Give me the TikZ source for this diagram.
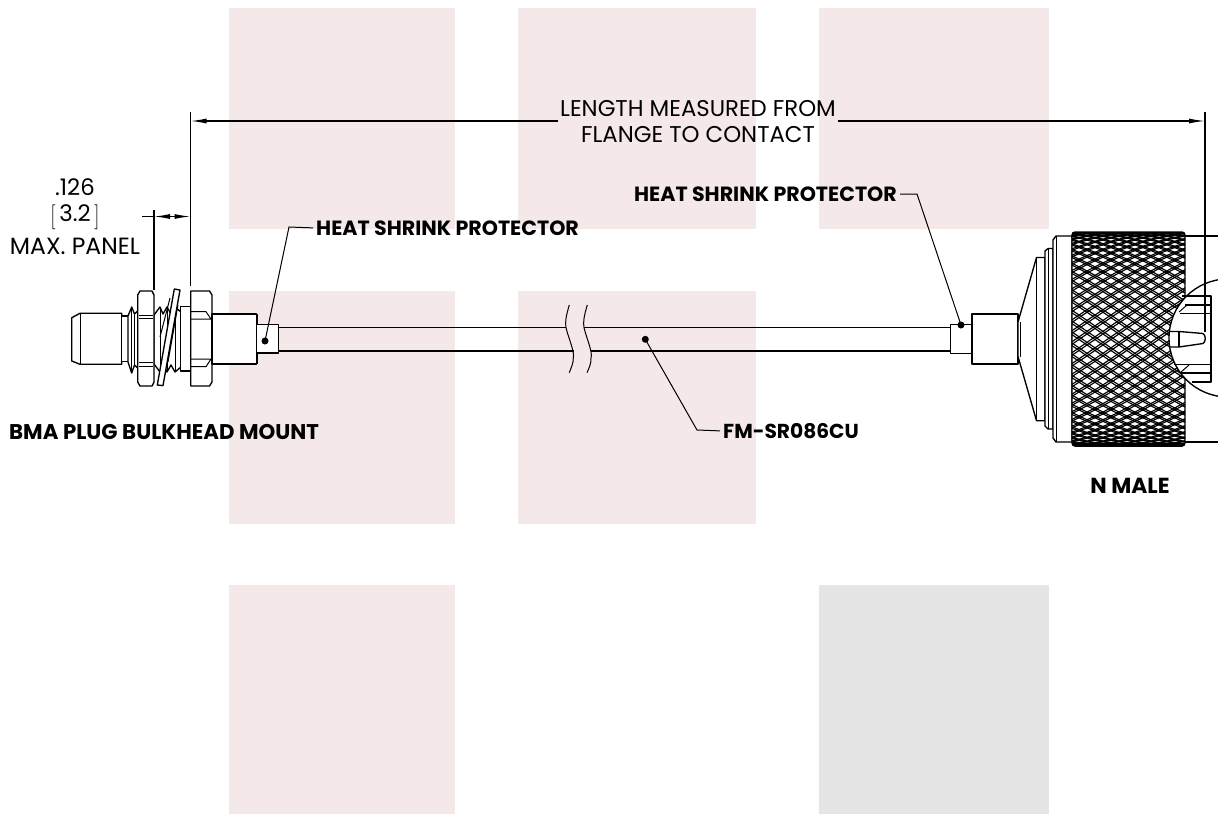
\documentclass[tikz,border=0pt]{standalone}
\usepackage{fontspec}
\setmainfont{Poppins}
\usepackage{tikz}
\usetikzlibrary{arrows.meta}
\tikzset{
    pinkbox/.style={fill=pinkshade, draw=none},
    part/.style={draw=black, line width=1.35pt, fill=white, line join=round},
    thin part/.style={draw=black, line width=1pt},
    leader/.style={draw=black, line width=1pt, shorten >=3pt},
    leaderdot/.style={circle, fill=black, inner sep=0pt, minimum size=7pt},
    dimline/.style={draw=black, line width=1.2pt},
    dimarrow/.style={dimline, -{Latex[length=16pt,width=5pt]}},
    knurl/.style={line width=1.15pt},
    boldlabel/.style={inner sep=0pt, font=\fontsize{#1}{24}\selectfont\bfseries},
    boldlabel/.default=20.6,
    lightlabel/.style={inner sep=0pt, font=\fontsize{22.8}{26}\selectfont, align=center}
}
\definecolor{pinkshade}{HTML}{F4E8E8}
\definecolor{greyshade}{HTML}{E5E5E5}

\begin{document}
\begin{tikzpicture}[x=1pt, y=-1pt]
    \useasboundingbox (0,0) rectangle (1218,814);

    % Fondo
    \fill[pinkbox] (229,8) rectangle (455,229);
    \fill[pinkbox] (229,291) rectangle (455,524);
    \fill[pinkbox] (229,585) rectangle (455,814);
    \fill[pinkbox] (518,8) rectangle (756,229);
    \fill[pinkbox] (518,291) rectangle (756,524);
    \fill[pinkbox] (819,8) rectangle (1049,229);
    \fill[greyshade] (819,585) rectangle (1049,814);

    % Conector BMA: ponta
    \draw[part] (71.7,317.7) -- (80,313.3) -- (121.7,313.3) -- (121.7,364.3) -- (80,364.3) -- (71.7,361) -- cycle;
    \draw[thin part] (80,313.3) -- (80,364.3);
    \draw[part] (121.7,316) rectangle (130,361.5);

    % Conector BMA: roscas
    \draw[part] (128,316) -- (131.7,307) -- (134.5,314) -- (137.7,311) -- (137.7,368) -- (134.5,365) -- (131.7,373) -- (128,362) -- cycle;
    \draw[thin part] (131.7,307) -- (131.7,373);
    \draw[thin part] (134.5,314) -- (134.5,365);
    \draw[part] (154,315) -- (160,307) -- (163,314) -- (167,307) -- (171,314) -- (175,307) -- (181,312) -- (181,367) -- (175,372) -- (171,365) -- (167,372) -- (163,365) -- (160,372) -- (154,364) -- cycle;
    \draw[thin part] (160,307) -- (160,372);
    \draw[thin part] (167,307) -- (167,372);
    \draw[thin part] (175,307) -- (175,372);

    % Conector BMA: porcas
    \draw[part] (137.7,295) -- (140,291) -- (152,291) -- (154,295) -- (154,382) -- (152,386) -- (140,386) -- (137.7,382) -- cycle;
    \draw[thin part] (139,315) -- (153,315);
    \draw[thin part] (139,318) -- (153,318);
    \draw[thin part] (139,362) -- (153,362);
    \draw[thin part] (139,366) -- (153,366);
    \draw[part] (180.7,306.6) rectangle (190.7,371);
    \draw[part] (174.3,289) -- (180,290) -- (163,385.6) -- (157.3,385) -- cycle;
    \draw[thin part] (170,298) -- (160,337);
    \draw[thin part] (178,305) -- (168,362);
    \draw[part] (190.7,291) -- (209.5,291) -- (212,295) -- (212,382) -- (209.5,386) -- (190.7,386) -- cycle;
    \draw[thin part] (191,311.7) -- (206,311.7) -- (211,319) -- (191,319);
    \draw[thin part] (191,366.7) -- (206,366.7) -- (211,359) -- (191,359);

    % Corpo, termorretratil e cabo
    \draw[part] (212,314) rectangle (256.7,364);
    \draw[draw=black, line width=2pt] (256.7,314) -- (256.7,364);
    \draw[part] (256.7,324.5) rectangle (278.5,353);
    \draw[part] (278.5,327.5) -- (566,327.5);
    \draw[part] (278.5,351) -- (573.5,351);
    \draw[part] (584,327.5) -- (950.7,327.5);
    \draw[part] (591,351) -- (950.7,351);
    \draw[thin part] (569.3,305) .. controls (566,316) and (565,322) .. (566,327.5) .. controls (568,337) and (575,352) .. (573.3,358) .. controls (573.5,363) and (571,368) .. (569.3,372.7);
    \draw[thin part] (587.3,305) .. controls (584,316) and (583,322) .. (584,327.5) .. controls (586,337) and (593,352) .. (591,358) .. controls (591.5,363) and (589,368) .. (587,372.7);

    % Conector N: corpo
    \draw[part] (950.7,324.5) rectangle (972,353.5);
    \draw[part] (972,314) rectangle (1018,364);
    \draw[part] (1018,322) -- (1036.5,257.5) -- (1045,257.5) -- (1045,420.7) -- (1036.5,420.7) -- (1018,356.5) -- cycle;
    \draw[thin part] (1020,322) -- (1020,356.5);
    \draw[thin part] (1036.5,257.5) -- (1036.5,420.7);
    \draw[part] (1045,251) -- (1048,248.5) -- (1053,248.5) -- (1053,429) -- (1048,429) -- (1045,426) -- cycle;
    \draw[thin part] (1048.5,248.5) -- (1048.5,429);
    \draw[part] (1053,240) -- (1056,236) -- (1072,236) -- (1072,442) -- (1056,442) -- (1053,438) -- cycle;
    \draw[thin part] (1056.5,236) -- (1056.5,442);
    \draw[part] (1184,236) -- (1218,236);
    \draw[part] (1184,442) -- (1218,442);

    % Recartilhado
    \begin{scope}
        \clip[rounded corners=3pt] (1072,232) rectangle (1185,446);
        \fill[white] (1072,232) rectangle (1185,446);
        \foreach \k in {-21,...,23} {
            \foreach \d in {-0.7,0.7} {
                \pgfmathsetmacro{\ta}{-14.85+5.9*\k+\d}
                \pgfmathsetmacro{\tb}{2.15+5.9*\k+\d}
                \draw[knurl] plot[domain=1072:1185, samples=9] ({\x},{339+107*sin(max(-90,min(90,\ta+(\x-1072)*0.37)))});
                \draw[knurl] plot[domain=1072:1185, samples=9] ({\x},{339+107*sin(max(-90,min(90,\tb-(\x-1072)*0.37)))});
            }
        }
    \end{scope}
    \draw[line width=1.35pt, rounded corners=3pt] (1072,232) rectangle (1185,446);

    % Vista em corte do contato
    \draw[part] (1228,338) circle (59);
    \draw[part, fill=none] (1185,305) -- (1211,305);
    \draw[part, fill=none] (1180,313.5) -- (1211,313.5);
    \draw[part, fill=none] (1182,296) -- (1211,296) -- (1211,382) -- (1192,382);
    \draw[part, fill=none] (1174,364.5) -- (1211,364.5);
    \draw[part, fill=none] (1180,373) -- (1211,373);
    \draw[thin part] (1179,312) -- (1187,305);
    \draw[thin part] (1180,373) -- (1189,365);
    \draw[part, fill=none] (1169,331.5) -- (1179,331.5) -- (1203,333.5) .. controls (1206,335) and (1206,342) .. (1203,343.5) -- (1179,347) -- (1169,347);
    \draw[part, fill=none] (1179,331.5) -- (1179,347);

    % Cota principal
    \coordinate (flange top) at (190.5,112);
    \coordinate (flange bottom) at (190.5,286);
    \coordinate (contact top) at (1205,112);
    \coordinate (contact bottom) at (1205,332);
    \coordinate (flange mark) at (190.5,121);
    \coordinate (contact mark) at (1205,121);
    \draw[dimline] (flange top) -- (flange bottom);
    \draw[dimline] (contact top) -- (contact bottom);
    \node[lightlabel] (length) at (698,122) {LENGTH MEASURED FROM\\FLANGE TO CONTACT};
    \coordinate (length left) at (558,121);
    \coordinate (length right) at (838,121);
    \draw[dimarrow] (length left) -- (flange mark);
    \draw[dimarrow] (length right) -- (contact mark);

    % Cota do painel
    \coordinate (panel top) at (154,210);
    \coordinate (panel bottom) at (154,290);
    \coordinate (panel tail) at (142,216.5);
    \coordinate (panel mark) at (154,216.5);
    \coordinate (panel mid) at (172,216.5);
    \coordinate (panel flange) at (190.5,216.5);
    \draw[dimline] (panel top) -- (panel bottom);
    \draw[dimline] (panel tail) -- (panel mark);
    \draw[dimarrow] (panel mid) -- (panel mark);
    \draw[dimarrow] (panel mid) -- (panel flange);
    \node[lightlabel] (panel value) at (75,187) {.126};
    \node[lightlabel] (panel metric) at (75,217) {\raisebox{-2pt}{\scalebox{1}[1.2]{$\bigl[$}}\,3.2\,\raisebox{-2pt}{\scalebox{1}[1.2]{$\bigr]$}}};
    \node[lightlabel, font=\fontsize{23.5}{26}\selectfont] (panel note) at (75,246) {MAX. PANEL};

    % Chamadas
    \node[leaderdot] (left dot) at (265,341) {};
    \node[leaderdot] (right dot) at (961,325) {};
    \node[leaderdot] (cable dot) at (645.3,339.3) {};
    \node[boldlabel, anchor=west] (left shrink) at (316,228) {HEAT SHRINK PROTECTOR};
    \node[boldlabel, anchor=east] (right shrink) at (897,194) {HEAT SHRINK PROTECTOR};
    \node[boldlabel=20.2, anchor=west] (cable) at (723,431) {FM-SR086CU};
    \node[boldlabel=21.3, anchor=west] (bma) at (9,432) {BMA PLUG BULKHEAD MOUNT};
    \node[boldlabel=21.8] (nmale) at (1130,486) {N MALE};
    \draw[leader] (left dot.center) -- (289,227) -- (left shrink.west);
    \draw[leader] (right dot.center) -- (917,194) -- (right shrink.east);
    \draw[leader] (cable dot.center) -- (697,430) -- (cable.west);
\end{tikzpicture}
\end{document}
